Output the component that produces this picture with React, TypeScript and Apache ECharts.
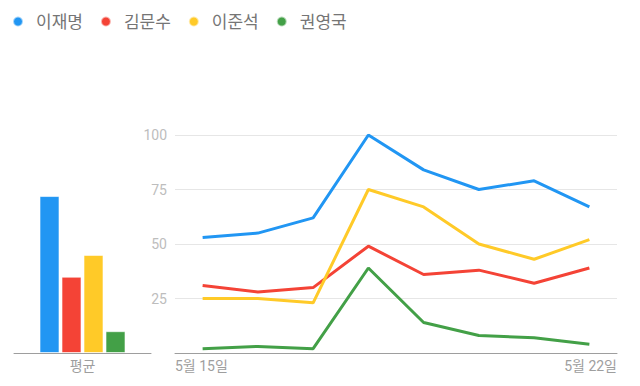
import React, { useEffect, useRef } from "react";
import * as echarts from "echarts";

const names = ["이재명", "김문수", "이준석", "권영국"];
const colors = ["#2196F3", "#F44336", "#FFCA28", "#43A047"];
const dates = ["5월 15일", "5월 16일", "5월 17일", "5월 18일", "5월 19일", "5월 20일", "5월 21일", "5월 22일"];
const leeJaeMyung = [53, 55, 62, 100, 84, 75, 79, 67];
const kimMoonSoo = [31, 28, 30, 49, 36, 38, 32, 39];
const leeJunSeok = [25, 25, 23, 75, 67, 50, 43, 52];
const kwonYoungGuk = [2, 3, 2, 39, 14, 8, 7, 4];
const averages = [72, 35, 45, 10];
const avgCategory = ["평균"];

const FONT = "Roboto, 'Noto Sans CJK KR', sans-serif";

export default function App() {
  const ref = useRef<HTMLDivElement>(null);
  useEffect(() => {
    if (!ref.current) return;
    const chart = echarts.init(ref.current, null, { renderer: "svg" });
    const lineData = [leeJaeMyung, kimMoonSoo, leeJunSeok, kwonYoungGuk];
    const barSeries = names.map((n, i) => ({
      name: n,
      type: "bar",
      xAxisIndex: 0,
      yAxisIndex: 0,
      data: [averages[i]],
      barWidth: 20,
      barGap: "10%",
      itemStyle: { color: colors[i], borderColor: "rgba(255,255,255,0.6)", borderWidth: 1 },
    }));
    const lineSeries = names.map((n, i) => ({
      name: n,
      type: "line",
      xAxisIndex: 1,
      yAxisIndex: 1,
      data: lineData[i],
      showSymbol: false,
      symbol: "none",
      lineStyle: { color: colors[i], width: 3 },
      itemStyle: { color: colors[i] },
    }));
    chart.setOption({
      animation: false,
      textStyle: { fontFamily: FONT },
      color: colors,
      legend: {
        data: names,
        left: 7,
        top: 8,
        icon: "circle",
        itemWidth: 26,
        itemHeight: 10,
        itemGap: 17,
        textStyle: { color: "#757575", fontSize: 17, fontFamily: FONT },
      },
      grid: [
        { left: 14, right: 489, top: 135, bottom: 33 },
        { left: 175, right: 23, top: 135, bottom: 33 },
      ],
      xAxis: [
        {
          type: "category",
          gridIndex: 0,
          data: avgCategory,
          axisLine: { lineStyle: { color: "#9e9e9e" } },
          axisTick: { show: false },
          axisLabel: { color: "#9e9e9e", fontSize: 14, margin: 6, fontFamily: FONT },
        },
        {
          type: "category",
          gridIndex: 1,
          data: dates,
          boundaryGap: true,
          axisLine: { lineStyle: { color: "#9e9e9e" } },
          axisTick: { show: false },
          axisLabel: { show: false },
        },
        {
          type: "value",
          gridIndex: 1,
          min: 0,
          max: 1,
          interval: 1,
          position: "bottom",
          axisLine: { show: false },
          axisTick: { show: false },
          splitLine: { show: false },
          axisLabel: {
            color: "#9e9e9e",
            fontSize: 14,
            margin: 6,
            fontFamily: FONT,
            alignMinLabel: "left",
            alignMaxLabel: "right",
            formatter: (v: number) => (v === 0 ? dates[0] : dates[dates.length - 1]),
          },
        },
      ],
      yAxis: [
        {
          type: "value",
          gridIndex: 0,
          min: 0,
          max: 100,
          show: false,
        },
        {
          type: "value",
          gridIndex: 1,
          min: 0,
          max: 100,
          interval: 25,
          axisLine: { show: false },
          axisTick: { show: false },
          splitLine: { lineStyle: { color: "#e6e6e6" } },
          axisLabel: {
            color: "#bdbdbd",
            fontSize: 14,
            margin: 8,
            fontFamily: FONT,
            formatter: (v: number) => (v === 0 ? "" : String(v)),
          },
        },
      ],
      series: [...barSeries, ...lineSeries],
    });
    return () => chart.dispose();
  }, []);
  return <div ref={ref} style={{ width: 640, height: 386, position: "absolute", left: 0, top: 0 }} />;
}
